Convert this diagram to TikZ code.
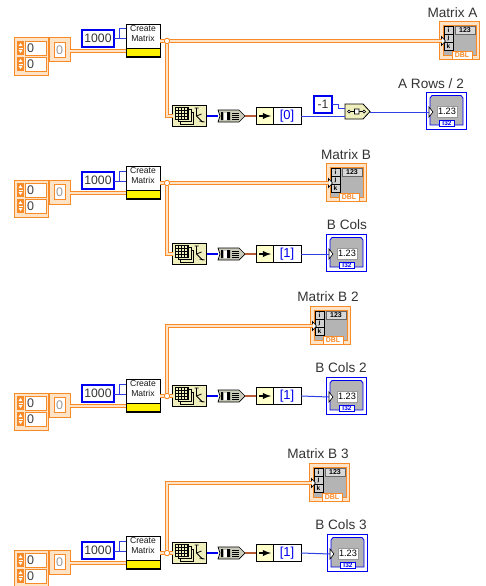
\documentclass[tikz,border=0pt]{standalone}
\usepackage{fontspec}
\setmainfont{Liberation Sans}
\definecolor{wireor}{HTML}{F88A28}
\definecolor{paleor}{HTML}{FFE3C6}
\definecolor{numblue}{HTML}{0000F0}
\definecolor{thinblue}{HTML}{3040E0}
\definecolor{beige}{HTML}{FFFFCC}
\definecolor{toolbeige}{HTML}{EFEFBE}
\definecolor{panelgrey}{HTML}{B4B4B4}
\definecolor{brownwire}{HTML}{B85C38}
\tikzset{
    rawbox/.style={rectangle, anchor=north west, inner sep=0pt, outer sep=0pt},
    orbox/.style={rawbox, draw=wireor, line width=1pt},
    blkbox/.style={rawbox, draw=black, line width=0.8pt},
    constbox/.style={rawbox, draw=numblue, fill=white, line width=2pt, minimum height=17pt,
        font=\fontsize{12.2pt}{13pt}\selectfont, text=black!80},
    orwire/.style={draw=wireor, double=paleor, line width=1.1pt, double distance=1.3pt},
    bluewire/.style={draw=thinblue, line width=1pt},
    fatwire/.style={draw=numblue, line width=2pt},
    brownw/.style={draw=brownwire, line width=2.6pt},
    junct/.style={circle, draw=wireor, fill=white, line width=1pt, minimum size=5.5pt, inner sep=0pt},
    lbl/.style={font=\fontsize{13.6pt}{14pt}\selectfont, text=black!80, inner sep=0pt},
    zerotxt/.style={font=\fontsize{12.5pt}{13pt}\selectfont, text=black!75, inner sep=0pt},
    tab/.style={rawbox, fill=white, font=\bfseries\fontsize{7pt}{8pt}\selectfont, minimum width=20pt, minimum height=8pt},
    termtri/.style={fill=white, draw=black, line width=0.6pt},
    % two stacked index boxes with spinners
    arrctl/.pic={
        \node[orbox, fill=paleor, minimum width=34pt, minimum height=37pt] (-box) at (0,0) {};
        \foreach \yy/\cc in {3/a,19/b}{
            \node[rawbox, fill=wireor, minimum width=7pt, minimum height=14pt] (-spin\cc) at (3,\yy) {};
            \draw[white, line width=0.8pt] (4.5,\yy+7) -- (8.5,\yy+7);
            \fill[white] (6.5,\yy+2) -- (8.5,\yy+5) -- (4.5,\yy+5) -- cycle;
            \fill[white] (6.5,\yy+12) -- (8.5,\yy+9) -- (4.5,\yy+9) -- cycle;
            \node[rawbox, draw=wireor, fill=white, minimum width=21pt, minimum height=14pt] (-cell\cc) at (11,\yy) {};
            \node[zerotxt] (-zero\cc) at (16.5,\yy+7.5) {0};
        }
    },
    % orange array constant
    arrconst/.pic={
        \node[orbox, fill=paleor, minimum width=21pt, minimum height=24pt] (-box) at (0,0) {};
        \node[rawbox, draw=wireor, fill=white, minimum width=11pt, minimum height=15pt] (-cell) at (5,4.5) {};
        \node[zerotxt, text=black!40] (-zero) at (10.5,12) {0};
        \coordinate (-out) at (21,13);
    },
    % blue numeric constant
    numconst/.pic={
        \node[constbox, minimum width=32pt] (-box) at (1,1) {1000};
        \coordinate (-out) at (33,10);
    },
    cmatrix/.pic={
        \node[blkbox, fill=white, minimum width=34pt, minimum height=33pt] (-box) at (0,0) {};
        \node[rawbox, anchor=north, align=center, text=black!90, font=\fontsize{8.6pt}{10pt}\selectfont] (-txt) at (17,1.5) {Create\\Matrix};
        \node[blkbox, fill=yellow, minimum width=34pt, minimum height=8pt] (-yel) at (0,24.5) {};
        \coordinate (-a) at (0,5);
        \coordinate (-b) at (0,15);
        \coordinate (-c) at (0,27);
        \coordinate (-out) at (34,17);
    },
    % matrix size tool
    sizetool/.pic={
        \node[blkbox, fill=toolbeige, minimum width=34pt, minimum height=21pt] (-box) at (0,0) {};
        \foreach \off in {5,2.5,0}{
            \draw[black, fill=toolbeige, line width=0.5pt] (3+\off,2+\off) rectangle (16+\off,14+\off);
        }
        \foreach \gx in {6,9,12,15}{\draw[black, line width=0.5pt] (\gx,2) -- (\gx,14);}
        \foreach \gy in {5,8,11}{\draw[black, line width=0.5pt] (3,\gy) -- (16,\gy);}
        \draw[black, line width=0.8pt] (24,3) -- (24,11) -- (30,17);
        \draw[black, line width=0.8pt] (22,3) -- (26,3) (24,11) -- (29,9) (27,16) -- (32,17);
        \coordinate (-in) at (0,11);
        \coordinate (-out) at (34,11);
    },
    wirebundle/.pic={
        \draw[black, fill=panelgrey!70!beige, line width=0.7pt]
            (0,0) -- (21,0) -- (27,6) -- (21,12) -- (0,12) -- (2,6) -- cycle;
        \fill[black] (3,2) rectangle (5,10) (9,2) rectangle (12,10);
        \fill[white] (6,2.5) rectangle (8.5,9.5);
        \foreach \ly in {3,5,7,9}{\draw[black, line width=0.7pt] (14,\ly) -- (21,\ly);}
        \coordinate (-in) at (0,6);
        \coordinate (-out) at (27,6);
    },
    % index arrow + blue index text
    idxnode/.pic={
        \node[blkbox, fill=white, minimum width=45pt, minimum height=17pt] (-box) at (0,0) {};
        \node[blkbox, fill=beige, minimum width=17.5pt, minimum height=17pt] (-arr) at (0,0) {};
        \draw[black, line width=1.8pt, -latex] (3,8.5) -- (15,8.5);
        \node[text=numblue, inner sep=0pt, font=\fontsize{13pt}{14pt}\selectfont] (-val) at (31,8.5) {[#1]};
        \coordinate (-in) at (0,8.5);
        \coordinate (-out) at (45,8.5);
    },
    decnode/.pic={
        \draw[black, fill=toolbeige, line width=0.8pt]
            (0,0) -- (18,0) -- (25,7.5) -- (18,15) -- (0,15) -- cycle;
        \draw[black, line width=0.7pt] (3,7.5) -- (20,7.5);
        \draw[black, fill=white, line width=0.7pt] (9.5,5) rectangle (14,10) (4,7.5) circle (1.5pt) (19,7.5) circle (1.5pt);
        \coordinate (-a) at (0,4);
        \coordinate (-b) at (0,12);
        \coordinate (-out) at (25,8);
    },
    matind/.pic={
        \node[orbox, fill=paleor, line width=1.6pt, minimum width=40pt, minimum height=38pt] (-box) at (0.5,0.5) {};
        \node[rawbox, draw=wireor, fill=panelgrey, minimum width=33pt, minimum height=30pt] (-panel) at (4,4) {};
        \foreach \nn/\ty in {i/5,j/13,k/21}{
            \node[rawbox, draw=black, fill=panelgrey!60, minimum width=9pt, minimum height=8pt,
                  font=\bfseries\fontsize{6.5pt}{7pt}\selectfont] (-\nn) at (5,\ty) {\nn};
        }
        \node[rawbox, draw=black!60, fill=black!15, minimum width=20pt, minimum height=8pt,
              font=\bfseries\fontsize{7pt}{8pt}\selectfont] (-val) at (16,5) {123};
        \node[tab, text=wireor, draw=wireor] (-tab) at (13,30) {DBL};
        \fill[termtri] (2.5,15.5) -- (6.5,20) -- (2.5,24.5) -- cycle;
        \coordinate (-in) at (2.5,20);
    },
    numind/.pic={
        \node[rawbox, draw=numblue, fill=white, line width=1.2pt, minimum width=40pt, minimum height=37pt] (-box) at (0.5,0.5) {};
        \draw[numblue, fill=panelgrey, line width=0.8pt]
            (4,6) -- (6,3.5) -- (35,3.5) -- (37,6) -- (37,33) -- (4,33) -- cycle;
        \node[tab, text=numblue, draw=numblue, minimum width=15pt, minimum height=6.5pt, line width=0.8pt,
              font=\bfseries\fontsize{6.5pt}{7pt}\selectfont] (-tab) at (13.5,28) {I32};
        \node[rawbox, draw=black!40, fill=white, minimum width=20pt, minimum height=11pt,
              font=\fontsize{9.2pt}{10pt}\selectfont] (-val) at (11,14) {1.23};
        \fill[termtri] (3,15) -- (7,20) -- (3,25) -- cycle;
        \coordinate (-in) at (3,20);
    }
}
\begin{document}
\begin{tikzpicture}[x=1pt, y=-1pt]
\path[use as bounding box, clip] (0,0) rectangle (486,586);
% front of each row
\foreach \n/\dy in {1/0, 2/142, 3/355, 4/512}{
    \pic (ctl\n) at (14,38+\dy) {arrctl};
    \pic (ac\n) at (49,38+\dy) {arrconst};
    \pic (k\n) at (81,29+\dy) {numconst};
    \pic (cm\n) at (126,24+\dy) {cmatrix};
    \node[junct] (j\n) at (167,41+\dy) {};
    \draw[orwire] (ac\n-out) -- (cm\n-c);
    \draw[orwire] (cm\n-out) -- (j\n);
    \draw[bluewire] (k\n-out) -- (cm\n-b);
    \draw[bluewire] (k\n-out) -- ++(5,0) |- (cm\n-a);
}
% tool chain of each row
\foreach \n/\ty/\digit in {1/116/0, 2/254/1, 3/396/1, 4/553/1}{
    \pic (t\n) at (172.5,\ty-11) {sizetool};
    \pic (b\n) at (218,\ty-6) {wirebundle};
    \pic (ix\n) at (256,\ty-8.5) {idxnode={\digit}};
    \draw[fatwire] (t\n-out) -- (b\n-in);
    \draw[brownw] (b\n-out) -- (ix\n-in);
}
% indicators
\pic (ma) at (439,21) {matind};
\pic (mb) at (326,163) {matind};
\pic (mc) at (310,306) {matind};
\pic (md) at (309,463) {matind};
\pic (na) at (426,92) {numind};
\pic (nb) at (326,234) {numind};
\pic (nc) at (326,377) {numind};
\pic (nd) at (327,534) {numind};
\node[lbl] (lma) at (452.5,13) {Matrix A};
\node[lbl] (lna) at (431,83.5) {A Rows / 2};
\node[lbl] (lmb) at (346,155) {Matrix B};
\node[lbl] (lnb) at (347,225) {B Cols};
\node[lbl] (lmc) at (328,297) {Matrix B 2};
\node[lbl] (lnc) at (341,368) {B Cols 2};
\node[lbl] (lmd) at (318,454) {Matrix B 3};
\node[lbl] (lnd) at (341,525) {B Cols 3};
% row 1 decrement
\node[constbox, minimum width=18pt] (km) at (314,96) {-1};
\pic (dec) at (345,104) {decnode};
\draw[bluewire] (ix1-out) -- (dec-b);
\draw[bluewire] (km.east) -- ++(6,0) |- (dec-a);
\draw[bluewire] (dec-out) -- (na-in);
% orange wires to tools and indicators
\draw[orwire] (j1) -- (ma-in);
\draw[orwire] (j1) |- (t1-in);
\draw[orwire] (j2) -- (mb-in);
\draw[orwire] (j2) |- (t2-in);
\draw[orwire] (j3) |- (mc-in);
\draw[orwire] (j3) -- (t3-in);
\draw[orwire] (j4) |- (md-in);
\draw[orwire] (j4) -- (t4-in);
\draw[bluewire] (ix2-out) -- (nb-in);
\draw[bluewire] (ix3-out) -- (nc-in);
\draw[bluewire] (ix4-out) -- (nd-in);
\end{tikzpicture}
\end{document}
